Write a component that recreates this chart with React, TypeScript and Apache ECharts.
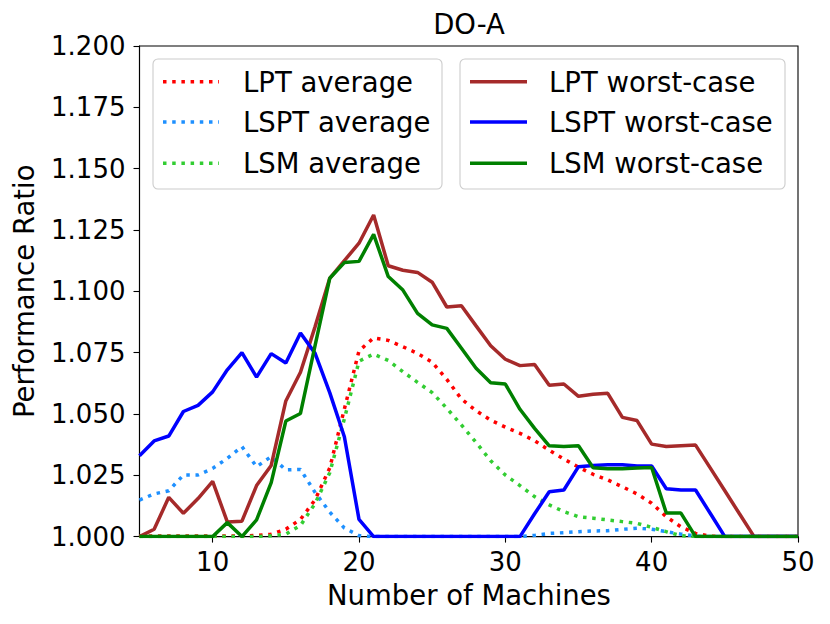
import React, { useEffect, useRef } from "react";
import * as echarts from "echarts";

const machines = [5, 6, 7, 8, 9, 10, 11, 12, 13, 14, 15, 16, 17, 18, 19, 20, 21, 22, 23, 24, 25, 26, 27, 28, 29, 30, 31, 32, 33, 34, 35, 36, 37, 38, 39, 40, 41, 42, 43, 44, 45, 46, 47, 48, 49, 50];

const lptAverage = [1.0002, 1.0002, 1.0002, 1.0002, 1.0002, 1.0002, 1.0002, 1.0002, 1.0005, 1.001, 1.003, 1.007, 1.015, 1.028, 1.052, 1.0757, 1.081, 1.080, 1.0774, 1.0747, 1.0711, 1.0641, 1.0561, 1.0513, 1.0475, 1.0446, 1.0421, 1.0391, 1.0352, 1.0316, 1.0283, 1.0254, 1.0231, 1.0203, 1.0174, 1.0136, 1.0081, 1.004, 1.0013, 1.0002, 1.0, 1.0, 1.0, 1.0, 1.0, 1.0];

const lsptAverage = [1.0149, 1.0174, 1.0187, 1.0251, 1.0251, 1.0278, 1.0319, 1.0367, 1.0285, 1.0326, 1.0272, 1.0274, 1.018, 1.010, 1.0035, 1.0004, 1.0, 1.0, 1.0, 1.0, 1.0, 1.0, 1.0, 1.0, 1.0, 1.0, 1.0, 1.0005, 1.0013, 1.0016, 1.002, 1.0023, 1.0024, 1.003, 1.0034, 1.003, 1.002, 1.001, 1.0002, 1.0, 1.0, 1.0, 1.0, 1.0, 1.0, 1.0];

const lsmAverage = [1.0, 1.0, 1.0, 1.0, 1.0, 1.0, 1.0, 1.0, 1.0, 1.0003, 1.001, 1.0045, 1.0135, 1.026, 1.048, 1.0715, 1.0744, 1.0718, 1.0672, 1.0629, 1.0587, 1.0523, 1.0455, 1.0384, 1.0309, 1.0251, 1.0208, 1.0163, 1.0129, 1.0102, 1.0081, 1.0075, 1.0068, 1.0061, 1.0054, 1.0038, 1.002, 1.0004, 1.0, 1.0, 1.0, 1.0, 1.0, 1.0, 1.0, 1.0];

const lptWorst = [1.0, 1.003, 1.016, 1.0095, 1.0155, 1.0225, 1.006, 1.0063, 1.0208, 1.029, 1.0553, 1.067, 1.0856, 1.1053, 1.1125, 1.1196, 1.1311, 1.1104, 1.1086, 1.1077, 1.1037, 1.0936, 1.0941, 1.0859, 1.0778, 1.0723, 1.0697, 1.0702, 1.0617, 1.0622, 1.0572, 1.058, 1.0584, 1.0486, 1.0473, 1.0377, 1.0367, 1.037, 1.0373, 1.028, 1.0187, 1.0093, 1.0, 1.0, 1.0, 1.0];

const lsptWorst = [1.033, 1.039, 1.041, 1.051, 1.0535, 1.059, 1.068, 1.075, 1.065, 1.0746, 1.0708, 1.083, 1.0747, 1.0587, 1.0407, 1.007, 1.0, 1.0, 1.0, 1.0, 1.0, 1.0, 1.0, 1.0, 1.0, 1.0, 1.0, 1.0093, 1.0183, 1.019, 1.0285, 1.029, 1.0293, 1.0293, 1.0288, 1.0288, 1.0195, 1.019, 1.019, 1.0095, 1.0, 1.0, 1.0, 1.0, 1.0, 1.0];

const lsmWorst = [1.0, 1.0, 1.0, 1.0, 1.0, 1.0, 1.0057, 1.0, 1.0068, 1.022, 1.0471, 1.0502, 1.078, 1.1053, 1.1117, 1.1122, 1.1232, 1.106, 1.1005, 1.091, 1.0863, 1.0849, 1.0768, 1.0686, 1.0627, 1.0622, 1.0519, 1.0441, 1.037, 1.0367, 1.037, 1.0281, 1.0277, 1.0277, 1.028, 1.0282, 1.0096, 1.0096, 1.0, 1.0, 1.0, 1.0, 1.0, 1.0, 1.0, 1.0];

const xTicks = [10, 20, 30, 40, 50];

const averageNames = ["LPT average", "LSPT average", "LSM average"];
const worstNames = ["LPT worst-case", "LSPT worst-case", "LSM worst-case"];
const averageColors = ["#ff0000", "#1e90ff", "#32cd32"];
const worstColors = ["#a52a2a", "#0000ff", "#008000"];

const FONT = "DejaVu Sans";
const LW = 3.5;
const DOT = [3.5, 5.7];

export default function App() {
  const ref = useRef<HTMLDivElement>(null);

  useEffect(() => {
    if (!ref.current) return;
    const chart = echarts.init(ref.current, null, { renderer: "svg" });

    const pairs = (vals: number[]) => machines.map((m, i) => [m, vals[i]]);
    const avgData = [lptAverage, lsptAverage, lsmAverage];
    const worstData = [lptWorst, lsptWorst, lsmWorst];

    const series: any[] = [];
    avgData.forEach((d, i) => {
      series.push({
        type: "line",
        name: averageNames[i],
        data: pairs(d),
        symbol: "none",
        lineStyle: { color: averageColors[i], width: LW, type: DOT, cap: "butt" },
        itemStyle: { color: averageColors[i] },
        z: 2,
      });
    });
    worstData.forEach((d, i) => {
      series.push({
        type: "line",
        name: worstNames[i],
        data: pairs(d),
        symbol: "none",
        lineStyle: { color: worstColors[i], width: LW, type: "solid" },
        itemStyle: { color: worstColors[i] },
        z: 3,
      });
    });

    const legendBox = (x: number, w: number, names: string[], colors: string[], dotted: boolean, lineX: number, lineW: number, textX: number) => {
      const children: any[] = [
        {
          type: "rect",
          shape: { x, y: 59, width: w, height: 130, r: 5 },
          style: { fill: "rgba(255,255,255,0.8)", stroke: "#cccccc", lineWidth: 1.1 },
        },
      ];
      const rows = [81.7, 121.9, 163.2];
      names.forEach((n, i) => {
        children.push({
          type: "line",
          shape: { x1: lineX, y1: rows[i], x2: lineX + lineW, y2: rows[i] },
          style: dotted
            ? { stroke: colors[i], lineWidth: LW, lineDash: DOT, lineCap: "butt" }
            : { stroke: colors[i], lineWidth: LW, lineCap: "butt" },
        });
        children.push({
          type: "text",
          x: textX,
          y: rows[i],
          style: {
            text: n,
            font: `27.5px '${FONT}'`,
            fill: "#000",
            textAlign: "left",
            textVerticalAlign: "middle",
          },
        });
      });
      return { type: "group", z: 50, children };
    };

    chart.setOption({
      animation: false,
      backgroundColor: "#ffffff",
      grid: {
        left: 139.5,
        top: 46,
        width: 658.5,
        height: 490.6,
        show: true,
        borderColor: "#000",
        borderWidth: 1.1,
        backgroundColor: "transparent",
      },
      xAxis: {
        type: "value",
        min: 5,
        max: 50,
        axisLine: { show: true, lineStyle: { color: "#000", width: 1.1 } },
        axisTick: { show: true, inside: false, length: 6, lineStyle: { color: "#000", width: 1.1 }, customValues: xTicks },
        axisLabel: { show: true, margin: 12, fontSize: 26, fontFamily: FONT, color: "#000", customValues: xTicks },
        splitLine: { show: false },
      },
      yAxis: {
        type: "value",
        min: 1.0,
        max: 1.2,
        interval: 0.025,
        axisLine: { show: true, lineStyle: { color: "#000", width: 1.1 } },
        axisTick: { show: true, inside: false, length: 6, lineStyle: { color: "#000", width: 1.1 } },
        axisLabel: {
          show: true,
          margin: 14,
          fontSize: 26,
          fontFamily: FONT,
          color: "#000",
          formatter: (v: number) => v.toFixed(3),
        },
        splitLine: { show: false },
      },
      series,
      graphic: [
        {
          type: "text",
          x: 469,
          y: 24,
          style: { text: "DO-A", font: `27.5px '${FONT}'`, fill: "#000", textAlign: "center", textVerticalAlign: "middle" },
        },
        {
          type: "text",
          x: 469,
          y: 594.7,
          style: { text: "Number of Machines", font: `27.5px '${FONT}'`, fill: "#000", textAlign: "center", textVerticalAlign: "middle" },
        },
        {
          type: "text",
          x: 23.5,
          y: 291.3,
          rotation: Math.PI / 2,
          style: { text: "Performance Ratio", font: `27.5px '${FONT}'`, fill: "#000", textAlign: "center", textVerticalAlign: "middle" },
        },
        legendBox(153, 289, averageNames, averageColors, true, 163, 56, 243),
        legendBox(460, 325, worstNames, worstColors, false, 470, 57, 549),
      ],
    });

    return () => chart.dispose();
  }, []);

  return <div ref={ref} style={{ position: "fixed", left: 0, top: 0, width: 830, height: 624 }} />;
}
